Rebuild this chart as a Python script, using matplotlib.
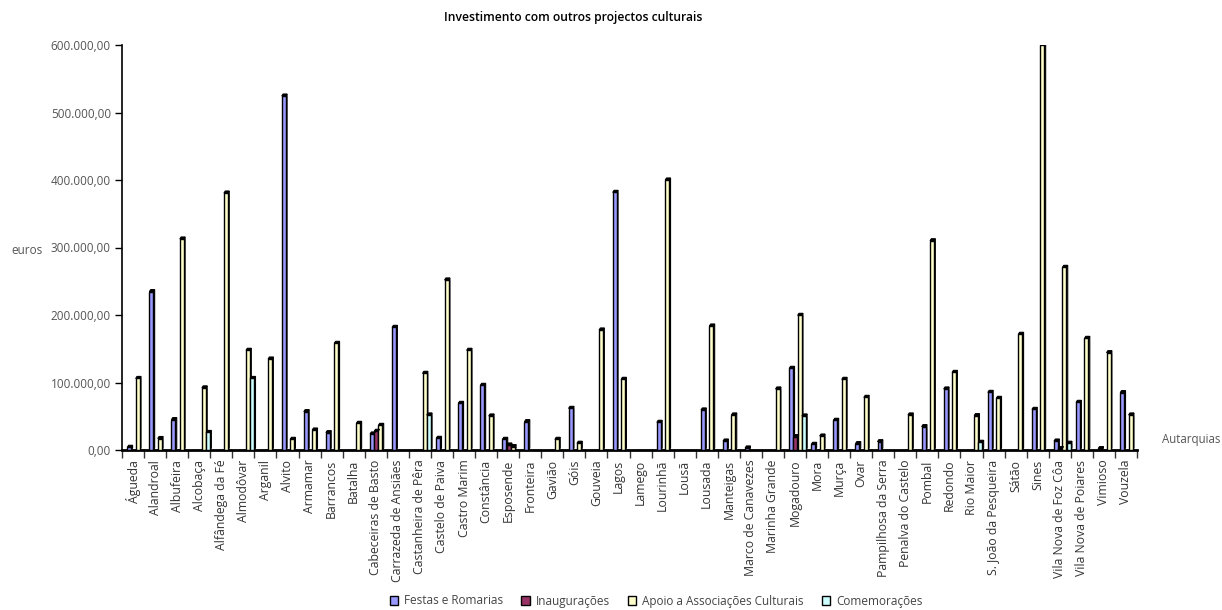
import matplotlib
matplotlib.use("Agg")
import matplotlib.pyplot as plt
from matplotlib.patches import Polygon
from matplotlib.ticker import FuncFormatter, FixedLocator
import numpy as np

categories = ["Águeda", "Alandroal", "Albufeira", "Alcobaça", "Alfândega da Fé", "Almodôvar",
              "Arganil", "Alvito", "Armamar", "Barrancos", "Batalha", "Cabeceiras de Basto",
              "Carrazeda de Ansiães", "Castanheira de Pêra", "Castelo de Paiva", "Castro Marim",
              "Constância", "Esposende", "Fronteira", "Gavião", "Góis", "Gouveia", "Lagos",
              "Lamego", "Lourinhã", "Lousã", "Lousada", "Manteigas", "Marco de Canavezes",
              "Marinha Grande", "Mogadouro", "Mora", "Murça", "Ovar", "Pampilhosa da Serra",
              "Penalva do Castelo", "Pombal", "Redondo", "Rio Maior", "S. João da Pesqueira",
              "Sátão", "Sines", "Vila Nova de Foz Côa", "Vila Nova de Poiares", "Vimioso", "Vouzela"]

festas = [4000, 234600, 45000, 0, 0, 0, 0, 524400, 56800, 25700, 0, 23700,
          181700, 0, 17300, 69100, 95800, 15800, 42000, 0, 61700, 0, 381700,
          0, 41000, 0, 59300, 13300, 3000, 0, 121000, 8400, 44000, 9400, 12300,
          0, 34600, 90400, 0, 85400, 0, 60200, 13300, 70600, 2000, 85000]
inauguracoes = [0, 0, 0, 0, 0, 0, 0, 0, 0, 0, 0, 27700,
                0, 0, 0, 0, 0, 7400, 0, 0, 0, 0, 0,
                0, 0, 0, 0, 0, 0, 0, 19800, 0, 0, 0, 0,
                0, 0, 0, 0, 0, 0, 0, 2000, 0, 0, 0]
apoio = [106000, 17000, 312600, 92000, 380700, 147700, 134800, 15800, 29600, 158000, 39500, 36500,
         0, 113600, 251900, 147700, 50400, 5000, 0, 15800, 10000, 177800, 104700,
         0, 400000, 0, 183700, 51900, 0, 90400, 199500, 20700, 104700, 78000, 0,
         51900, 310000, 115000, 50900, 76500, 171400, 600000, 270600, 165400, 144200, 51900]
comemoracoes = [0, 0, 0, 26000, 0, 106000, 0, 0, 0, 0, 0, 0,
                0, 51900, 0, 0, 0, 0, 0, 0, 0, 0, 0,
                0, 0, 0, 0, 0, 0, 0, 50400, 0, 0, 0, 0,
                0, 0, 0, 11400, 0, 0, 0, 10000, 0, 0, 0]

series_names = ["Festas e Romarias", "Inaugurações", "Apoio a Associações Culturais", "Comemorações"]
series_values = [festas, inauguracoes, apoio, comemoracoes]
front_colors = ["#9999FF", "#993366", "#FFFFCC", "#CCFFFF"]
side_colors = ["#4C4C80", "#4C1A33", "#808066", "#668080"]
y_ticks = [0, 100000, 200000, 300000, 400000, 500000, 600000]

font = "Open Sans"
plt.rcParams["font.family"] = [font, "DejaVu Sans"]

fig = plt.figure(figsize=(12.22, 6.10), dpi=100)
W, H = 1222, 610
x0, x1, ytop, ybot = 122, 1137, 45, 450
ax = fig.add_axes([x0 / W, 1 - ybot / H, (x1 - x0) / W, (ybot - ytop) / H])

n = len(categories)
x = np.arange(n)
offsets = [-0.17, 0.02, 0.21, 0.40]
width = 0.18
dx = 0.06
dy = 3000

for vals, off, fc, sc, name in zip(series_values, offsets, front_colors, side_colors, series_names):
    vals = np.asarray(vals, dtype=float)
    ax.bar(x + off, vals, width=width, color=fc, edgecolor="black", linewidth=1.0,
           label=name, zorder=3)
    for xi, v in zip(x + off, vals):
        if v <= 0:
            continue
        xl, xr = xi - width / 2, xi + width / 2
        side = Polygon([(xr, 0), (xr + dx, dy), (xr + dx, v + dy), (xr, v)], closed=True,
                       facecolor=sc, edgecolor="black", linewidth=0.8, zorder=2.5)
        top = Polygon([(xl, v), (xl + dx, v + dy), (xr + dx, v + dy), (xr, v)], closed=True,
                      facecolor="black", edgecolor="black", linewidth=0.8, zorder=3.5)
        ax.add_patch(side)
        ax.add_patch(top)

ax.set_xlim(-0.5, n - 0.5)
ax.set_ylim(0, 600000)
ax.set_yticks(y_ticks)


def fmt(v, pos):
    s = f"{v:,.2f}"
    return s.replace(",", "X").replace(".", ",").replace("X", ".")


ax.yaxis.set_major_formatter(FuncFormatter(fmt))
ax.tick_params(axis="y", direction="out", length=5, width=1, labelsize=8.5,
               labelcolor="#555555", pad=3)

ax.set_xticks(x)
ax.set_xticklabels(categories, rotation=90, fontsize=8.8, color="#333333")
ax.tick_params(axis="x", which="major", length=0, pad=7)
ax.xaxis.set_minor_locator(FixedLocator(np.arange(-0.5, n, 1.0)))
ax.tick_params(axis="x", which="minor", direction="out", length=6, width=1, color="#333333")

for s in ["top", "right"]:
    ax.spines[s].set_visible(False)
ax.spines["left"].set_linewidth(1.2)
ax.spines["bottom"].set_linewidth(2.0)
ax.spines["bottom"].set_color("black")

fig.text(573 / W, 1 - 17 / H, "Investimento com outros projectos culturais",
         ha="center", va="center", fontsize=8.7, fontweight="semibold", color="black")
fig.text(27 / W, 1 - 250 / H, "euros", ha="center", va="center", fontsize=8.5, color="#555555")
fig.text(1220 / W, 1 - 440 / H, "Autarquias", ha="right", va="center", fontsize=8.3,
         color="#555555")

handles, labels = ax.get_legend_handles_labels()
leg = fig.legend(handles, labels, loc="center", bbox_to_anchor=(656 / W, 1 - 601 / H),
                 ncol=4, frameon=False, fontsize=8.5, handlelength=0.7, handleheight=0.7,
                 handletextpad=0.5, columnspacing=1.55)
for t in leg.get_texts():
    t.set_color("#444444")

fig.savefig("out.png", dpi=100)
